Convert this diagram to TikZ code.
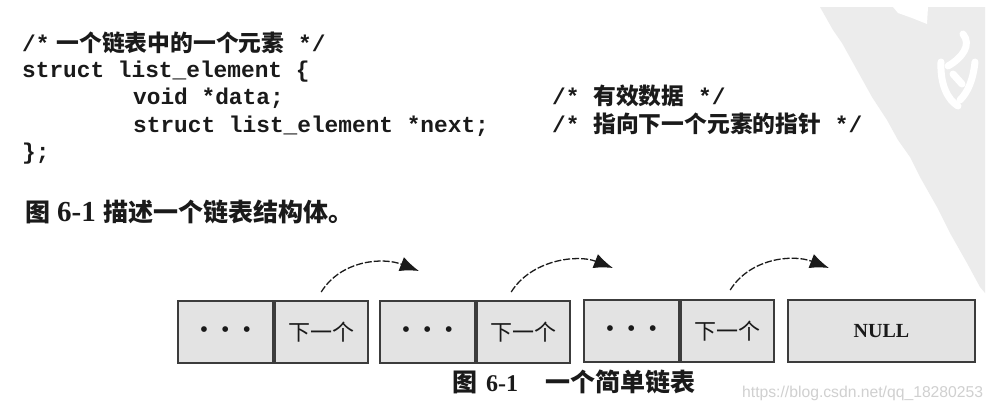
\documentclass[tikz,border=0pt]{standalone}
\usepackage{fontspec}
\setmainfont{Liberation Serif}
\newfontfamily\cjk{Noto Sans CJK SC}
\newfontfamily\mono{Liberation Mono}
\newfontfamily\wmfont{Liberation Sans}
\usetikzlibrary{arrows.meta,calc}
\definecolor{ink}{HTML}{1A1A1A}
\definecolor{cellfill}{HTML}{E3E3E3}
\definecolor{celldraw}{HTML}{3C3C3C}
\definecolor{stamp}{HTML}{ECECEC}
\definecolor{wmark}{HTML}{D0D0D0}
\begin{document}
\begin{tikzpicture}[x=1pt,y=-1pt,
  codeline/.style={anchor=base west, inner sep=0, text=ink, font={\mono\bfseries\fontsize{22.8}{27}\selectfont}},
  heading/.style={anchor=base west, inner sep=0, text=ink, font={\bfseries\fontsize{25}{30}\selectfont}},
  cell/.style={draw=celldraw, line width=1.8pt, fill=cellfill, minimum height=62pt, inner sep=0, anchor=north west, text=ink},
  datacell/.style={cell, minimum width=95pt, font={\fontsize{24}{26}\selectfont}},
  nextcell/.style={cell, minimum width=93pt, font={\cjk\fontsize{22}{24}\selectfont}},
  nullcell/.style={cell, minimum width=187pt, font={\bfseries\fontsize{20}{24}\selectfont}},
  ptr/.style={draw=ink, line width=1.3pt, dash pattern=on 7pt off 2pt, -{Latex[length=19pt,width=15pt]}},
  stroke/.style={draw=white, line width=7pt, line cap=round}
]
\useasboundingbox (0,0) rectangle (994,410);
\fill[white] (0,0) rectangle (994,410);
% background stamp
\fill[stamp] (820,7) -- (985,7) -- (985,293) -- (980,287) -- (967,263) -- (950,233) -- (937,207) -- (920,177) -- (910,157) -- (898,140) -- (887,120) -- (872,97) -- (857,70) -- (842,43) -- (833,30) -- cycle;
\fill[white] (893,7) -- (928,7) -- (927,24) -- (912,18) -- (898,13) -- cycle;
\path[stroke] (963,34) .. controls (972,45) and (962,58) .. (948,66);
\path[stroke] (941,62) .. controls (940,85) and (948,100) .. (958,106);
\path[stroke] (975,62) .. controls (973,80) and (968,92) .. (960,100);
\path[stroke] (953,74) -- (962,84);
% code
\node[codeline] (c1) at (22,51) {/*\hspace{7pt}{\cjk\bfseries 一个链表中的一个元素} */};
\node[codeline] (c2) at (22,77) {struct list\_element \{};
\node[codeline] (c3) at (133,104) {void *data;};
\node[codeline] (c4) at (133,132) {struct list\_element *next;};
\node[codeline] (c5) at (22,159) {\};};
\node[codeline] (m3) at (552,104) {/* {\cjk\bfseries 有效数据} */};
\node[codeline] (m4) at (552,132) {/* {\cjk\bfseries 指向下一个元素的指针} */};
% heading
\node[heading] (title) at (25,221) {{\cjk 图}\hspace{7pt}{\fontsize{29}{30}\selectfont 6-1}\hspace{8pt}{\cjk 描述一个链表结构体。}};
% list
\node[datacell] (d1) at (177,300) {•\hspace{13pt}•\hspace{13pt}•};
\node[nextcell] (n1) at (d1.north east) {下一个};
\node[datacell] (d2) at (379,300) {•\hspace{13pt}•\hspace{13pt}•};
\node[nextcell] (n2) at (d2.north east) {下一个};
\node[datacell] (d3) at (583,299) {•\hspace{13pt}•\hspace{13pt}•};
\node[nextcell] (n3) at (d3.north east) {下一个};
\node[nullcell] (null) at (787,299) {NULL};
\coordinate (t1) at ($(d2.north west)+(40,-29)$);
\coordinate (t2) at ($(d3.north west)+(30,-31)$);
\coordinate (t3) at ($(null.north west)+(42,-31)$);
\draw[ptr] ($(n1.north)+(0,-8)$) .. controls +(20,-32) and +(-36,-14) .. (t1);
\draw[ptr] ($(n2.north)+(-12,-8)$) .. controls +(20,-32) and +(-36,-14) .. (t2);
\draw[ptr] ($(n3.north)+(3,-9)$) .. controls +(20,-32) and +(-36,-14) .. (t3);
% caption
\node[heading] (cap) at (452,391) {{\cjk 图}\hspace{9pt}{\fontsize{24}{24}\selectfont 6-1}\hspace{27pt}{\cjk 一个简单链表}};
\node[anchor=base west, inner sep=0, text=wmark, font={\wmfont\fontsize{15.7}{18}\selectfont}] (wm) at (742,397) {https://blog.csdn.net/qq\_18280253};
\end{tikzpicture}
\end{document}
